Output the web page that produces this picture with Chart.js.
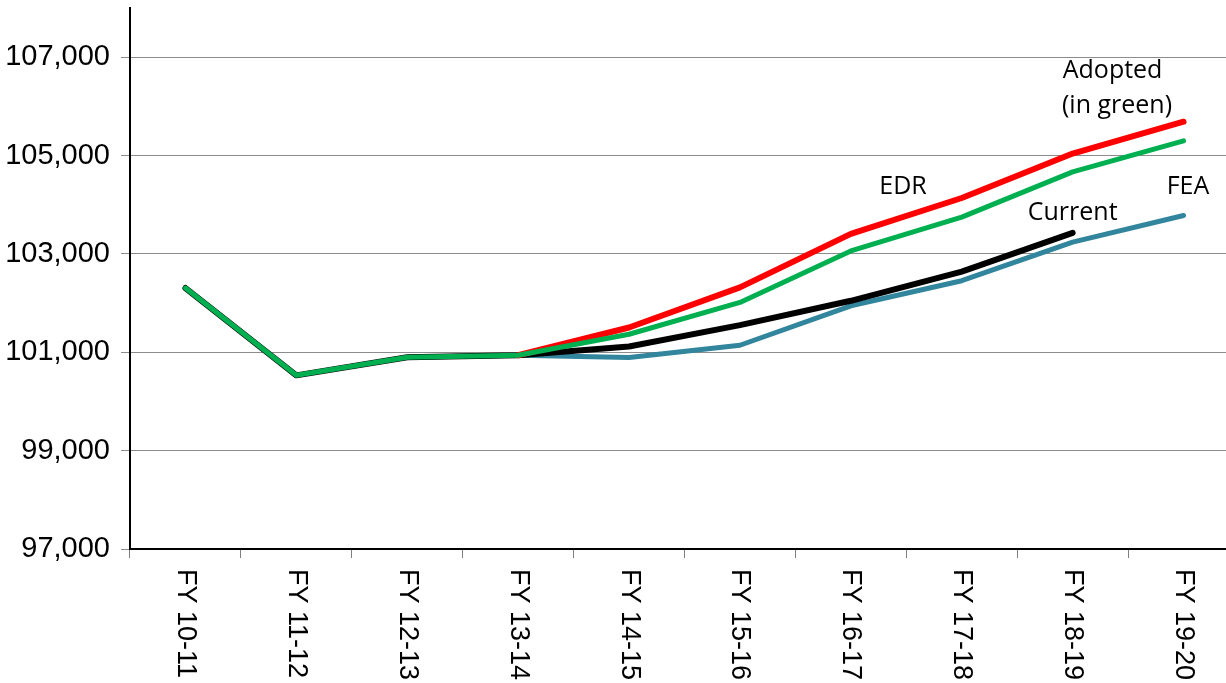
<!DOCTYPE html>
<html>
<head>
<meta charset="utf-8">
<script src="https://cdn.jsdelivr.net/npm/chart.js@4/dist/chart.umd.min.js"></script>
<style>
  html, body { margin: 0; padding: 0; background: #fff; overflow: hidden; }
  #wrap { width: 1239px; height: 683px; }
</style>
</head>
<body>
<div id="wrap"><canvas id="enrollChart"></canvas></div>
<script>
const years = ['FY 10-11', 'FY 11-12', 'FY 12-13', 'FY 13-14', 'FY 14-15',
               'FY 15-16', 'FY 16-17', 'FY 17-18', 'FY 18-19', 'FY 19-20'];
const adopted = [102306, 100531, 100898, 100939, 101367, 102014, 103060, 103749, 104667, 105300];
const edr     = [null, null, null, 100939, 101504, 102320, 103408, 104137, 105040, 105688];
const current = [102306, 100531, 100898, 100939, 101116, 101551, 102047, 102639, 103429, null];
const fea     = [null, null, 100898, 100939, 100892, 101143, 101945, 102455, 103239, 103782];
const yTicks  = [97000, 99000, 101000, 103000, 105000, 107000];

// label text and where it sits (category index, value)
const notes = [
  { text: 'Adopted', i: 8.36, v: 106715 },
  { text: '(in green)', i: 8.40, v: 106000 },
  { text: 'EDR', i: 6.47, v: 104373 },
  { text: 'Current', i: 8.0, v: 103843 },
  { text: 'FEA', i: 9.04, v: 104373 }
];

const xLabelPlugin = {
  id: 'xLabels',
  afterDraw(chart) {
    const ctx = chart.ctx;
    const xs = chart.scales.x;
    const ys = chart.scales.y;
    ctx.save();
    ctx.fillStyle = '#000';
    ctx.font = '27px "Liberation Sans", Arial, sans-serif';
    ctx.textAlign = 'left';
    ctx.textBaseline = 'middle';
    years.forEach((lab, i) => {
      const x = xs.getPixelForValue(i);
      ctx.save();
      ctx.translate(x, xs.top + 20);
      ctx.rotate(Math.PI / 2);
      ctx.fillText(lab, 0, 0);
      ctx.restore();
    });
    // annotations
    const x0 = xs.getPixelForValue(0);
    const step = xs.getPixelForValue(1) - x0;
    ctx.font = '25px "Open Sans", sans-serif';
    ctx.textAlign = 'center';
    notes.forEach(n => {
      ctx.fillText(n.text, x0 + step * n.i, ys.getPixelForValue(n.v));
    });
    ctx.restore();
  }
};

new Chart(document.getElementById('enrollChart'), {
  type: 'line',
  data: {
    labels: years,
    datasets: [
      { label: 'Adopted', data: adopted, borderColor: '#00B050', borderWidth: 5, order: 1 },
      { label: 'EDR', data: edr, borderColor: '#FF0000', borderWidth: 6, order: 2 },
      { label: 'Current', data: current, borderColor: '#000000', borderWidth: 6, order: 3 },
      { label: 'FEA', data: fea, borderColor: '#31859C', borderWidth: 5, order: 4 }
    ].map(d => Object.assign(d, {
      fill: false, pointRadius: 0, tension: 0,
      borderCapStyle: 'round', borderJoinStyle: 'round'
    }))
  },
  options: {
    responsive: true,
    maintainAspectRatio: false,
    animation: false,
    layout: { padding: { top: 8, right: 0, left: 0, bottom: 0 } },
    plugins: { legend: { display: false }, tooltip: { enabled: false } },
    scales: {
      x: {
        offset: true,
        grid: { offset: true, drawOnChartArea: false, drawTicks: true, tickLength: 9, color: '#808080' },
        border: { color: '#000', width: 2 },
        ticks: { display: false },
        afterFit(scale) { scale.height = 134; }
      },
      y: {
        min: 97000,
        max: 108000,
        afterBuildTicks(scale) { scale.ticks = yTicks.map(v => ({ value: v })); },
        grid: { color: '#8c8c8c', lineWidth: 1, tickLength: 9 },
        border: { color: '#000', width: 2 },
        ticks: {
          color: '#000',
          padding: 11,
          font: { family: '"Liberation Sans", Arial, sans-serif', size: 29 },
          callback: v => v.toLocaleString('en-US')
        },
        afterFit(scale) {
          scale.width = 130;
          scale.paddingTop = 0;
          scale.paddingBottom = 0;
        }
      }
    }
  },
  plugins: [xLabelPlugin]
});
</script>
</body>
</html>
